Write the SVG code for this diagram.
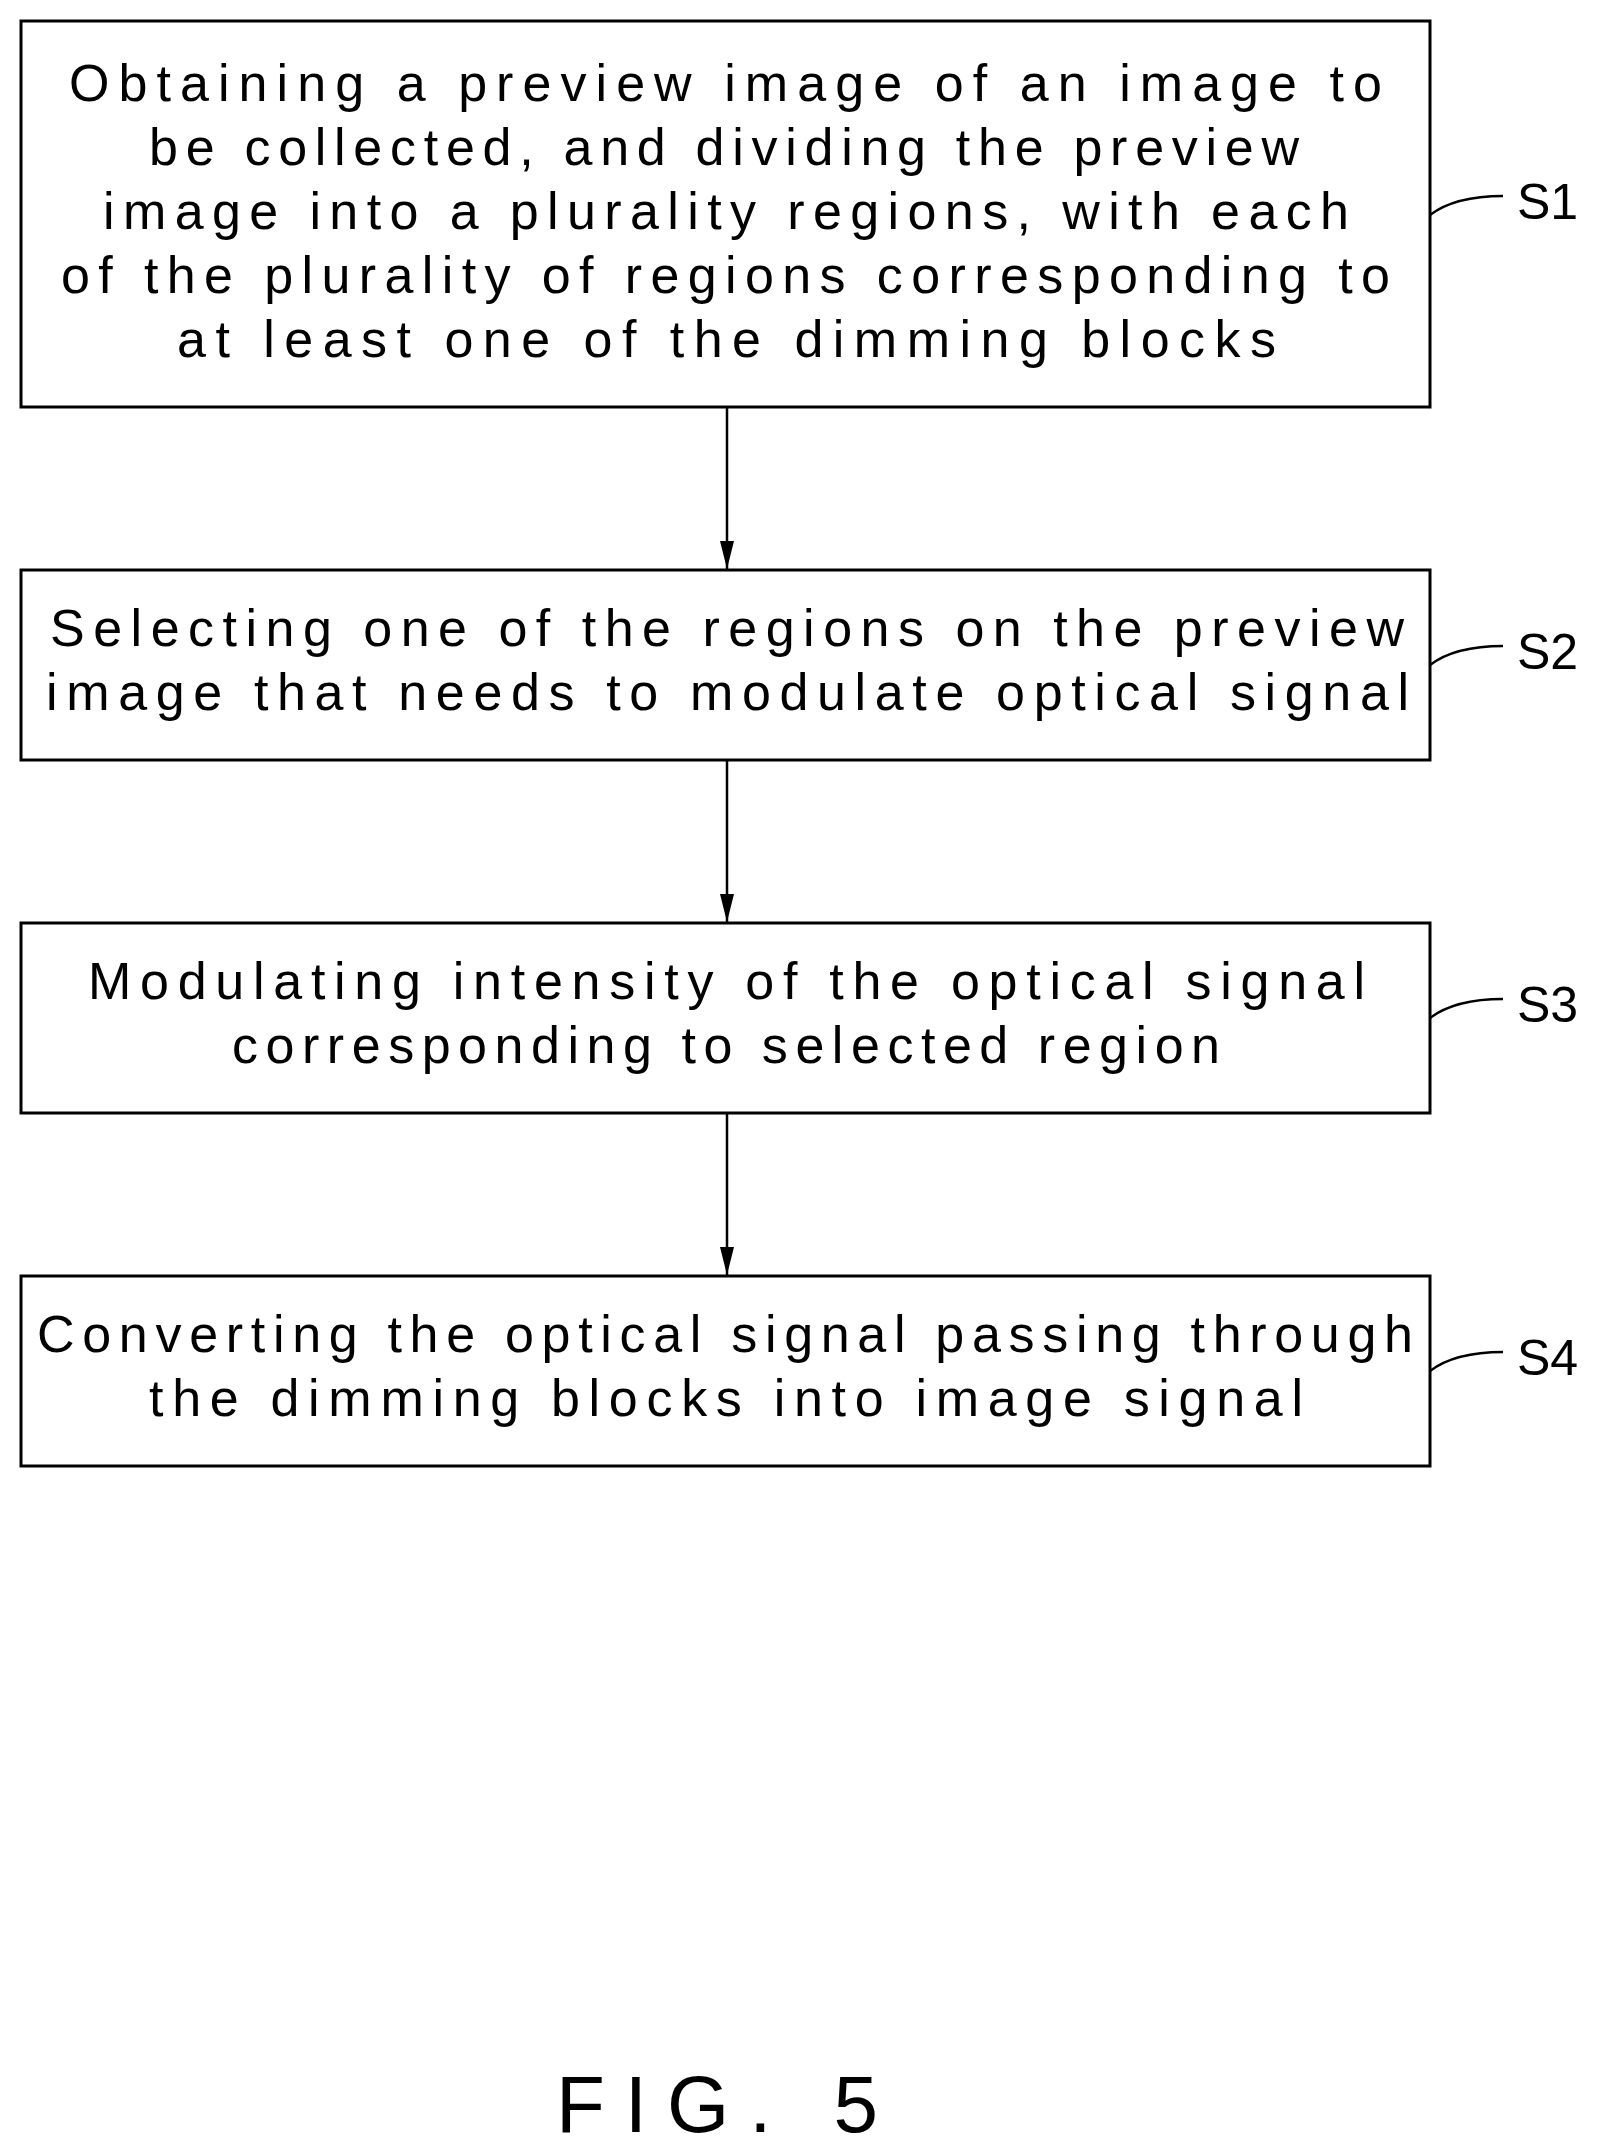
<svg xmlns="http://www.w3.org/2000/svg" width="1604" height="2153" viewBox="0 0 1604 2153">
<defs>
<style>
.b{fill:#fff;stroke:#000;stroke-width:3}
.t{font-family:"Liberation Sans",Arial,sans-serif;font-size:52px;fill:#000}
.l{fill:none;stroke:#000;stroke-width:2.5}
.lb{font-family:"Liberation Sans",Arial,sans-serif;font-size:50px;fill:#000}
</style>
<marker id="a" markerWidth="28" markerHeight="14" refX="28" refY="7" orient="auto" markerUnits="userSpaceOnUse" viewBox="0 0 28 14"><path d="M0,0 L28,7 L0,14 Z" fill="#000"/></marker>
</defs>
<rect width="1604" height="2153" fill="#fff"/>
<g id="S1">
<rect class="b" x="21" y="21" width="1409" height="386"/>
<text class="t" x="69" y="101" textLength="1313" lengthAdjust="spacing">Obtaining a preview image of an image to</text>
<text class="t" x="149" y="165" textLength="1150" lengthAdjust="spacing">be collected, and dividing the preview</text>
<text class="t" x="103" y="229" textLength="1246" lengthAdjust="spacing">image into a plurality regions, with each</text>
<text class="t" x="61" y="293" textLength="1329" lengthAdjust="spacing">of the plurality of regions corresponding to</text>
<text class="t" x="177" y="357" textLength="1099" lengthAdjust="spacing">at least one of the dimming blocks</text>
<path class="l" d="M1430,215 Q1455,196 1503,196"/>
<text class="lb" x="1517" y="219">S1</text>
</g>
<g id="S2">
<rect class="b" x="21" y="570" width="1409" height="190"/>
<text class="t" x="50" y="646" textLength="1354" lengthAdjust="spacing">Selecting one of the regions on the preview</text>
<text class="t" x="46" y="710" textLength="1363" lengthAdjust="spacing">image that needs to modulate optical signal</text>
<path class="l" d="M1430,665 Q1455,646 1503,646"/>
<text class="lb" x="1517" y="669">S2</text>
</g>
<g id="S3">
<rect class="b" x="21" y="923" width="1409" height="190"/>
<text class="t" x="88" y="999" textLength="1277" lengthAdjust="spacing">Modulating  intensity of the optical signal</text>
<text class="t" x="232" y="1063" textLength="988" lengthAdjust="spacing">corresponding to selected region</text>
<path class="l" d="M1430,1018 Q1455,999 1503,999"/>
<text class="lb" x="1517" y="1022">S3</text>
</g>
<g id="S4">
<rect class="b" x="21" y="1276" width="1409" height="190"/>
<text class="t" x="37" y="1352" textLength="1376" lengthAdjust="spacing">Converting the optical signal passing through</text>
<text class="t" x="149" y="1416" textLength="1154" lengthAdjust="spacing">the dimming blocks into image signal</text>
<path class="l" d="M1430,1371 Q1455,1352 1503,1352"/>
<text class="lb" x="1517" y="1375">S4</text>
</g>
<g id="connectors">
<line class="l" x1="727" y1="407" x2="727" y2="569" marker-end="url(#a)"/>
<line class="l" x1="727" y1="760" x2="727" y2="922" marker-end="url(#a)"/>
<line class="l" x1="727" y1="1113" x2="727" y2="1275" marker-end="url(#a)"/>
</g>
<text x="556" y="2132" textLength="322" lengthAdjust="spacing" style="font-family:'Liberation Sans',Arial,sans-serif;font-size:80px;fill:#000">FIG. 5</text>
</svg>
